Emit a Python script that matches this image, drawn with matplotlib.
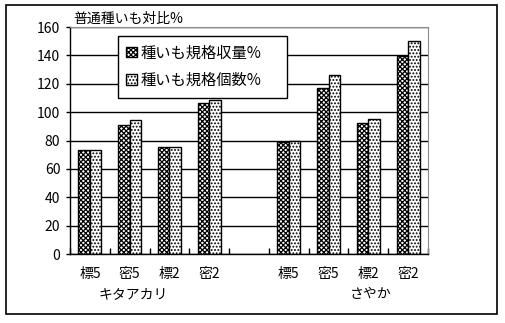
import matplotlib.pyplot as plt
import matplotlib.patches as mpatches
import matplotlib.transforms as mtransforms
import numpy as np

plt.rcParams['font.family'] = ['Noto Sans CJK JP', 'DejaVu Sans']
plt.rcParams['hatch.linewidth'] = 0.9

# 普通種いも対比 (%)
cats = ['標5', '密5', '標2', '密2', '', '標5', '密5', '標2', '密2']
yield_pct = [73, 91, 75.5, 106.5, np.nan, 79, 117, 92, 139.5]
count_pct = [73, 94.5, 75.5, 108.5, np.nan, 80, 126, 95, 150]
groups = ['キタアカリ', 'さやか']
series = ['種いも規格収量%', '種いも規格個数%']

fig = plt.figure(figsize=(5.05, 3.23), dpi=100)
ax = fig.add_axes([0.1386, 0.2136, 0.7089, 0.7028])

x = np.arange(len(cats))
w = 0.29
ax.bar(x - w / 2, yield_pct, w, facecolor='white', edgecolor='black',
       hatch='xxxxxxx', linewidth=1, label=series[0], zorder=3)
ax.bar(x + w / 2, count_pct, w, facecolor='white', edgecolor='black',
       hatch='.....', linewidth=1, label=series[1], zorder=3)

ax.set_xlim(-0.5, len(cats) - 0.5)
ax.set_ylim(0, 160)
ax.set_yticks(np.arange(0, 161, 20))
ax.yaxis.grid(True, color='black', linewidth=1)
ax.set_axisbelow(True)

ax.set_xticks(x)
ax.set_xticklabels(cats, fontsize=10)
ax.tick_params(axis='x', length=0, pad=9)
ax.set_xticks(np.arange(len(cats) + 1) - 0.5, minor=True)
ax.tick_params(axis='x', which='minor', direction='in', length=4, width=1)
ax.tick_params(axis='y', labelsize=10, length=3, width=1, pad=4)

for side in ['top', 'right']:
    ax.spines[side].set_color('#8c8c8c')
ax.spines['left'].set_linewidth(1)
ax.spines['bottom'].set_linewidth(1)

# group names under the category labels
trans = mtransforms.blended_transform_factory(ax.transData, ax.transAxes)
ax.text(1.08, -0.175, groups[0], transform=trans, ha='center', va='center', fontsize=10)
ax.text(7.06, -0.175, groups[1], transform=trans, ha='center', va='center', fontsize=10)

ax.text(0.01, 1.005, '普通種いも対比%', transform=ax.transAxes, ha='left', va='bottom',
        fontsize=10)

leg = ax.legend(loc='upper left', bbox_to_anchor=(0.134, 0.76, 0.472, 0.2),
                mode='expand', fontsize=11, fancybox=False, framealpha=1,
                edgecolor='black', handlelength=0.7, handleheight=0.7,
                handletextpad=0.2, labelspacing=0.7, borderpad=0.55,
                borderaxespad=0)
leg.get_frame().set_linewidth(1)

fig.patches.append(mpatches.Rectangle((6 / 505, 9 / 323), 491 / 505, 309 / 323,
                                      transform=fig.transFigure, fill=False,
                                      edgecolor='black', linewidth=1.2))

fig.savefig('out.png', dpi=100)
